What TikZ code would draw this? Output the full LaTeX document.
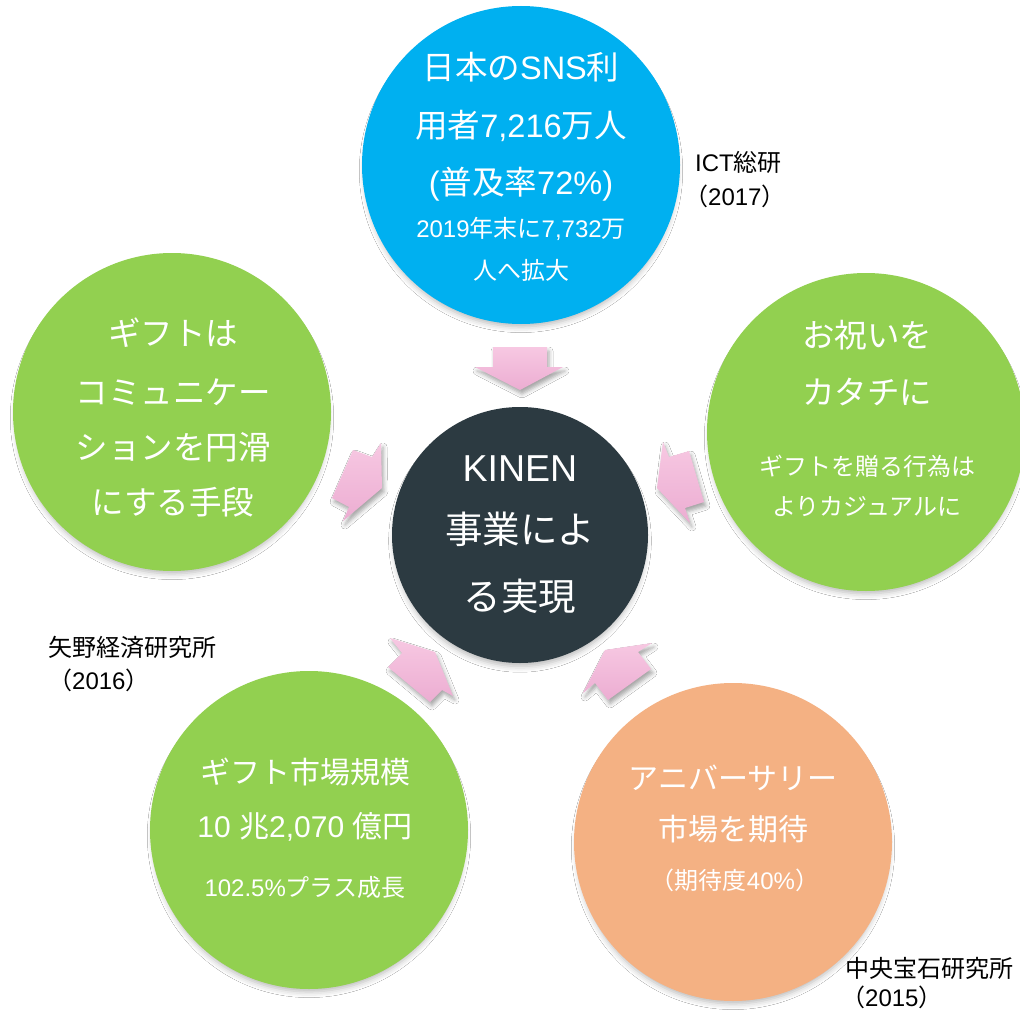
\documentclass[tikz,border=0pt]{standalone}
\usepackage{fontspec}
\setmainfont{Noto Sans CJK JP}
\newfontfamily\lat{Liberation Sans}
\usetikzlibrary{shadows.blur}
\definecolor{cblue}{HTML}{00B0F0}
\definecolor{cgreen}{HTML}{92D050}
\definecolor{corange}{HTML}{F4B183}
\definecolor{cdark}{HTML}{2C3A41}
\definecolor{pinkT}{HTML}{F7C8E2}
\definecolor{pinkB}{HTML}{ECADD2}
\tikzset{
  bubble/.style={circle, draw=none, minimum size=318pt, inner sep=0pt,
    blur shadow={shadow xshift=0pt, shadow yshift=-6pt, shadow scale=0.98, shadow blur radius=6pt, shadow opacity=28}},
  wtext/.style={text=white, inner sep=0pt, text depth=0pt, anchor=center},
  btext/.style={text=black, inner sep=0pt, text height=18.2pt, text depth=0pt, anchor=west,
    font=\fontsize{24}{24}\selectfont},
  big/.style={font=\fontsize{32.5}{32.5}\selectfont, text height=24.7pt},
  mid/.style={font=\fontsize{30}{30}\selectfont, text height=22.8pt},
  small/.style={font=\fontsize{24}{24}\selectfont, text height=18.2pt},
  huge/.style={font=\fontsize{37.5}{37.5}\selectfont, text height=28.5pt},
  blockarrow/.style={draw=none, top color=pinkT, bottom color=pinkB,
    blur shadow={shadow xshift=2pt, shadow yshift=-4pt, shadow blur radius=4pt, shadow opacity=35}}
}
\begin{document}
\begin{tikzpicture}[x=1pt,y=-1pt]
\useasboundingbox (0,0) rectangle (1020,1011);
\fill[white] (0,0) rectangle (1020,1011);
% circles
\node[bubble, fill=cblue] (sns) at (521,165) {};
\node[bubble, fill=cgreen] (comm) at (172,412) {};
\node[bubble, fill=cgreen] (iwai) at (866,432) {};
\node[bubble, fill=cgreen] (gift) at (309,830) {};
\node[bubble, fill=corange] (anniv) at (733,842) {};
\node[bubble, fill=cdark, minimum size=256pt] (kinen) at (520,535) {};
% arrows
\path[blockarrow] (493,347) -- (547,347) -- (547,367) -- (563,367) -- (520,390) -- (475,367) -- (493,367) -- cycle;
\path[blockarrow] (381,443) -- (382,488) -- (343,521) -- (349,507) -- (332,498) -- (353,450) -- (372,457) -- cycle;
\path[blockarrow] (663,442) -- (657,488) -- (690,523) -- (685,508) -- (704,502) -- (689,451) -- (669,457) -- cycle;
\path[blockarrow] (390,638) -- (435,652) -- (453,696) -- (442,690) -- (430,702) -- (388,667) -- (402,653) -- cycle;
\path[blockarrow] (652,643) -- (605,650) -- (583,693) -- (595,683) -- (608,700) -- (651,669) -- (638,652) -- cycle;
% top circle text
\node[wtext, big] (sns1) at (521,67) {日本の{\lat SNS}利};
\node[wtext, big] (sns2) at (521,125) {用者{\lat 7,216}万人};
\node[wtext, big] (sns3) at (521,182) {{\lat (}普及率{\lat 72\%)}};
\node[wtext, small] (sns4) at (521,228) {{\lat 2019}年末に{\lat 7,732}万};
\node[wtext, small] (sns5) at (521,270) {人へ拡大};
% left circle text
\node[wtext, big] (comm1) at (173,333) {ギフトは};
\node[wtext, big] (comm2) at (173,392) {コミュニケー};
\node[wtext, big] (comm3) at (173,447) {ションを円滑};
\node[wtext, big] (comm4) at (173,502) {にする手段};
% right circle text
\node[wtext, big] (iwai1) at (867,335) {お祝いを};
\node[wtext, big] (iwai2) at (867,392) {カタチに};
\node[wtext, small] (iwai3) at (867,466) {ギフトを贈る行為は};
\node[wtext, small] (iwai4) at (867,506) {よりカジュアルに};
% center text
\node[wtext, huge] (kin1) at (520,467) {{\lat KINEN}};
\node[wtext, huge] (kin2) at (520,529) {事業によ};
\node[wtext, huge] (kin3) at (520,596) {る実現};
% bottom-left text
\node[wtext, mid] (gift1) at (305,772) {ギフト市場規模};
\node[wtext, mid] (gift2) at (305,826) {{\lat 10 }兆{\lat 2,070 }億円};
\node[wtext, small] (gift3) at (305,887) {{\lat 102.5\%}プラス成長};
% bottom-right text
\node[wtext, mid] (ann1) at (733,778) {アニバーサリー};
\node[wtext, mid] (ann2) at (733,829) {市場を期待};
\node[wtext, small] (ann3) at (735,880) {（期待度{\lat 40\%}）};
% sources
\node[btext] (src1a) at (695,162) {{\lat ICT}総研};
\node[btext] (src1b) at (684,196) {（{\lat 2017}）};
\node[btext] (src2a) at (48,647) {矢野経済研究所};
\node[btext] (src2b) at (48,680) {（{\lat 2016}）};
\node[btext] (src3a) at (845,968) {中央宝石研究所};
\node[btext] (src3b) at (841,997) {（{\lat 2015}）};
\end{tikzpicture}
\end{document}
